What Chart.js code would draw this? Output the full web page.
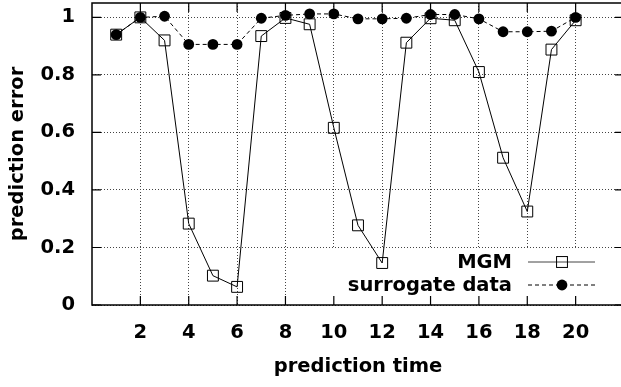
<!DOCTYPE html>
<html>
<head>
<meta charset="utf-8">
<script src="https://cdn.jsdelivr.net/npm/chart.js@4/dist/chart.umd.min.js"></script>
<style>
    html, body { margin: 0; padding: 0; background: #fff; overflow: hidden; }
</style>
</head>
<body>
<canvas id="chart" width="626" height="387"></canvas>
<script>
const predictionTime = [1, 2, 3, 4, 5, 6, 7, 8, 9, 10, 11, 12, 13, 14, 15, 16, 17, 18, 19, 20];
const mgmError = [0.94, 1.0, 0.92, 0.283, 0.102, 0.063, 0.935, 0.998, 0.976, 0.616, 0.277, 0.146, 0.912, 0.997, 0.99, 0.81, 0.512, 0.325, 0.888, 0.99];
const surrogateError = [0.94, 1.0, 1.004, 0.906, 0.906, 0.906, 0.997, 1.007, 1.012, 1.012, 0.995, 0.995, 0.997, 1.01, 1.01, 0.995, 0.95, 0.95, 0.952, 1.0];
const xTicks = [2, 4, 6, 8, 10, 12, 14, 16, 18, 20];
const yTicks = [0, 0.2, 0.4, 0.6, 0.8, 1];

const FAMILY = '"DejaVu Sans", Arial, sans-serif';
const FONT = 'bold 19.5px ' + FAMILY;

// frame, inward tick marks and the opaque key box, like gnuplot does it
const gnuplotFrame = {
    id: 'gnuplotFrame',
    beforeDatasetsDraw(chart) {
        const ctx = chart.ctx;
        const area = chart.chartArea;
        const xs = chart.scales.x;
        const ys = chart.scales.y;
        ctx.save();

        // key
        const keyTop = ys.getPixelForValue(0.2) + 1.5;
        ctx.fillStyle = '#fff';
        ctx.fillRect(330, keyTop, area.right - 330, area.bottom - keyTop);
        ctx.font = FONT;
        ctx.textAlign = 'right';
        ctx.textBaseline = 'middle';
        chart.data.datasets.forEach((ds, i) => {
            const y = area.bottom - 43 + i * 23;
            const mx = area.right - 62;
            ctx.fillStyle = '#000';
            ctx.fillText(ds.label, area.right - 112, y + 1);
            ctx.strokeStyle = i === 0 ? '#444' : ds.borderColor;
            ctx.lineWidth = 1;
            ctx.setLineDash(ds.borderDash || []);
            ctx.beginPath();
            ctx.moveTo(area.right - 96, y);
            ctx.lineTo(area.right - 29, y);
            ctx.stroke();
            ctx.setLineDash([]);
            if (ds.pointStyle === 'circle') {
                ctx.fillStyle = ds.pointBackgroundColor;
                ctx.beginPath();
                ctx.arc(mx, y, ds.pointRadius, 0, Math.PI * 2);
                ctx.fill();
            } else {
                const s = ds.pointRadius * Math.SQRT1_2;
                ctx.strokeStyle = ds.pointBorderColor;
                ctx.strokeRect(mx - s, y - s, 2 * s, 2 * s);
            }
        });

        // border
        ctx.strokeStyle = '#000';
        ctx.lineWidth = 1.5;
        ctx.strokeRect(area.left, area.top, area.right - area.left, area.bottom - area.top);

        // tick marks pointing inwards
        ctx.lineWidth = 1.2;
        ctx.beginPath();
        xs.ticks.forEach(t => {
            const px = xs.getPixelForValue(t.value);
            ctx.moveTo(px, area.bottom);
            ctx.lineTo(px, area.bottom - 9);
            ctx.moveTo(px, area.top);
            ctx.lineTo(px, area.top + 9);
        });
        ys.ticks.forEach(t => {
            const py = ys.getPixelForValue(t.value);
            ctx.moveTo(area.left, py);
            ctx.lineTo(area.left + 9, py);
            ctx.moveTo(area.right, py);
            ctx.lineTo(area.right - 9, py);
        });
        ctx.stroke();
        ctx.restore();
    }
};

const noPad = s => {
    s.paddingTop = 0;
    s.paddingBottom = 0;
    s.paddingLeft = 0;
    s.paddingRight = 0;
};

const ctx = document.getElementById('chart').getContext('2d');
new Chart(ctx, {
    type: 'line',
    data: {
        datasets: [{
            label: 'MGM',
            data: predictionTime.map((t, i) => ({ x: t, y: mgmError[i] })),
            borderColor: '#000',
            borderWidth: 1,
            pointStyle: 'rect',
            pointRadius: 7.7,
            pointBorderWidth: 1,
            pointBackgroundColor: 'rgba(0,0,0,0)',
            pointBorderColor: '#000',
            tension: 0,
            order: 1
        }, {
            label: 'surrogate data',
            data: predictionTime.map((t, i) => ({ x: t, y: surrogateError[i] })),
            borderColor: '#000',
            borderWidth: 1,
            borderDash: [4, 3],
            pointStyle: 'circle',
            pointRadius: 5.4,
            pointBorderWidth: 0,
            pointBackgroundColor: '#000',
            pointBorderColor: '#000',
            tension: 0,
            order: 0
        }]
    },
    options: {
        responsive: false,
        animation: false,
        events: [],
        layout: { autoPadding: false, padding: { top: 3, right: 2, left: 0, bottom: 0 } },
        plugins: {
            legend: { display: false },
            tooltip: { enabled: false }
        },
        scales: {
            x: {
                type: 'linear',
                min: 0,
                max: 22,
                afterBuildTicks: s => { s.ticks = xTicks.map(v => ({ value: v })); },
                afterFit: s => { s.height = 82; noPad(s); },
                grid: {
                    drawTicks: false,
                    color: '#444',
                    lineWidth: 1
                },
                border: { display: false, dash: [1, 2] },
                ticks: {
                    color: '#000',
                    font: { family: FAMILY, size: 19.5, weight: 'bold' },
                    padding: 16,
                    maxRotation: 0
                },
                title: {
                    display: true,
                    text: 'prediction time',
                    color: '#000',
                    font: { family: FAMILY, size: 19.5, weight: 'bold' },
                    padding: { top: 0, bottom: 8 }
                }
            },
            y: {
                min: 0,
                max: 1.05,
                afterBuildTicks: s => { s.ticks = yTicks.map(v => ({ value: v })); },
                afterFit: s => { s.width = 92; noPad(s); },
                grid: {
                    drawTicks: false,
                    color: '#444',
                    lineWidth: 1
                },
                border: { display: false, dash: [1, 2] },
                ticks: {
                    color: '#000',
                    font: { family: FAMILY, size: 19.5, weight: 'bold' },
                    padding: 17,
                    callback: v => String(v)
                },
                title: {
                    display: true,
                    text: 'prediction error',
                    color: '#000',
                    font: { family: FAMILY, size: 19.5, weight: 'bold' },
                    padding: { top: 6, bottom: 0 }
                }
            }
        }
    },
    plugins: [gnuplotFrame]
});
</script>
</body>
</html>
